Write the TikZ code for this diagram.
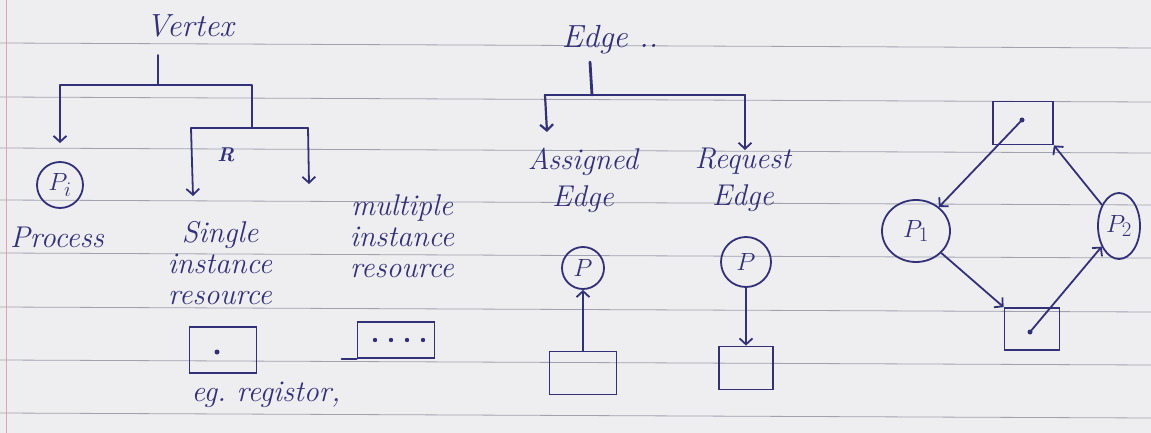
\documentclass[tikz,border=0pt]{standalone}
\usetikzlibrary{arrows.meta,shapes.geometric}
\definecolor{ink}{RGB}{50,48,120}
\definecolor{paper}{RGB}{238,238,240}
\definecolor{rulecol}{RGB}{160,162,175}
\definecolor{margincol}{RGB}{228,160,175}
\begin{document}
\begin{tikzpicture}[x=1pt,y=-1pt,
  hand/.style={text=ink, font=\itshape\fontsize{30}{31}\selectfont, align=center, inner sep=0pt},
  conn/.style={draw=ink, line width=1.8pt, line cap=round, line join=round},
  arr/.style={conn, -{Straight Barb[length=6pt,width=13pt]}},
  proc/.style={circle, draw=ink, line width=1.8pt, inner sep=0pt, text=ink, font=\itshape\fontsize{28}{30}\selectfont},
  procell/.style={ellipse, draw=ink, line width=1.8pt, inner sep=0pt, text=ink, font=\itshape\fontsize{32}{34}\selectfont},
  res/.style={rectangle, draw=ink, line width=1.8pt, inner sep=0pt},
  rulel/.style={draw=rulecol, line width=0.8pt}]
% paper
\fill[paper] (0,0) rectangle (1151,433);
\useasboundingbox (0,0) rectangle (1151,433);
\foreach \yy in {43,97,148,200,253,307,360,413}
  \draw[rulel] (0,\yy) -- (1151,\yy+5);
\draw[draw=margincol, line width=1pt] (6,0) -- (6,433);

% ---------- Vertex tree ----------
\node[hand, font=\itshape\fontsize{32}{34}\selectfont] (vertex) at (190,26) {Vertex};
\coordinate (v0) at (158,55);
\coordinate (vj) at (158,85);
\coordinate (vl) at (60,85);
\coordinate (vr) at (252,85);
\coordinate (vm) at (252,128);
\coordinate (sl) at (191,128);
\coordinate (sr) at (308,128);
\coordinate (sa) at (193,196);
\coordinate (ma) at (309,184);
\node[proc, minimum size=46pt] (pi) at (60,185) {$P_i$};
\draw[conn] (v0) -- (vj);
\draw[conn] (vl) -- (vr) -- (vm);
\draw[arr, shorten >=18pt] (vl) -- (pi.north);
\draw[conn] (sl) -- (sr);
\draw[arr] (sl) -- (sa);
\draw[arr] (sr) -- (ma);
\node[hand, font=\bfseries\itshape\fontsize{20}{22}\selectfont] (scrib) at (226,155) {R};

\node[hand] (process) at (57,237) {Process};
\node[hand] (single) at (220,263) {Single\\instance\\resource};
\node[hand] (multiple) at (402,236) {multiple\\instance\\resource};

\node[res, minimum width=67pt, minimum height=46pt] (sbox) at (223,350) {};
\fill[ink] (217,352) circle (2.5);
\node[res, minimum width=77pt, minimum height=36pt] (mbox) at (396,340) {};
\foreach \xx in {375,391,407,423} \fill[ink] (\xx,340) circle (2.2);
\draw[conn] (mbox.south west) -- ++(-15,0);
\node[hand] (eg) at (266,395) {eg.\ registor,};

% ---------- Edge tree ----------
\node[hand, font=\itshape\fontsize{32}{34}\selectfont] (edge) at (610,40) {Edge ..};
\coordinate (e0) at (590,62);
\coordinate (ej) at (592,95);
\coordinate (el) at (545,95);
\coordinate (er) at (745,95);
\coordinate (ea) at (547,132);
\coordinate (eb) at (745,150);
\draw[conn, line width=2.8pt] (e0) -- (ej);
\draw[conn, line width=2.2pt] (el) -- (er);
\draw[arr, line width=2.2pt] (el) -- (ea);
\draw[arr] (er) -- (eb);
\node[hand, font=\itshape\fontsize{30}{37}\selectfont] (assigned) at (583,180) {Assigned\\Edge};
\node[hand, font=\itshape\fontsize{30}{37}\selectfont] (request) at (743,180) {Request\\Edge};

\node[proc, minimum size=42pt] (pa) at (583,268) {$P$};
\node[proc, minimum size=50pt] (pr) at (746,262) {$P$};
\node[res, minimum width=67pt, minimum height=43pt] (ba) at (583,373) {};
\node[res, minimum width=54pt, minimum height=43pt] (br) at (746,368) {};
\draw[arr] (ba) -- (pa);
\draw[arr] (pr) -- (br);

% ---------- cycle ----------
\node[res, minimum width=60pt, minimum height=43pt] (tb) at (1023,123) {};
\coordinate (tdot) at (1022,120);
\fill[ink] (tdot) circle (2.5);
\node[res, minimum width=55pt, minimum height=42pt] (bb) at (1032,329) {};
\coordinate (bdot) at (1030,332);
\fill[ink] (bdot) circle (2.5);
\node[procell, minimum width=68pt, minimum height=62pt] (p1) at (916,231) {$P_1$};
\node[procell, minimum width=42pt, minimum height=66pt] (p2) at (1119,226) {$P_2$};
\draw[arr] (tdot) -- (p1);
\draw[arr] (p1) -- (bb.north west);
\draw[arr] (bdot) -- (p2);
\draw[arr] (p2) -- (tb.south east);
\end{tikzpicture}
\end{document}
